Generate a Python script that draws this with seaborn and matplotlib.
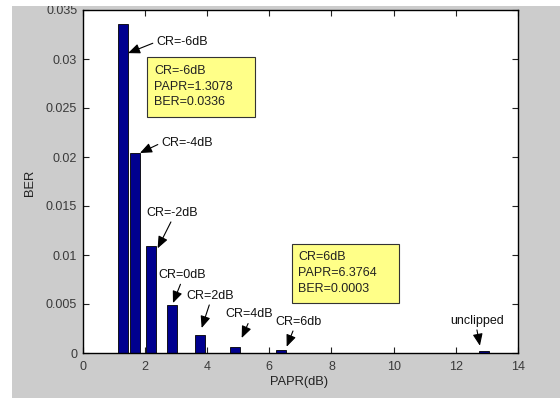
import matplotlib
matplotlib.use("Agg")
import matplotlib.pyplot as plt
from matplotlib.patches import Rectangle
import numpy as np
import pandas as pd
import seaborn as sns

# Clipping ratio results: PAPR (dB) vs. BER for each clipping level
clip_labels = ["CR=-6dB", "CR=-4dB", "CR=-2dB", "CR=0dB", "CR=2dB", "CR=4dB", "CR=6db", "unclipped"]
papr_db = [1.3078, 1.67, 2.20, 2.87, 3.77, 4.91, 6.3764, 12.90]
ber = [0.0336, 0.0204, 0.0109, 0.0049, 0.0018, 0.0006, 0.0003, 0.0002]

x_ticks = [0, 2, 4, 6, 8, 10, 12, 14]
y_ticks = [0, 0.005, 0.01, 0.015, 0.02, 0.025, 0.03, 0.035]
y_tick_labels = ["0", "0.005", "0.01", "0.015", "0.02", "0.025", "0.03", "0.035"]

# Label placement (text anchor in data units) and arrow tips on the bars
label_pos = [(2.36, 0.03174), (2.52, 0.02143), (2.06, 0.01432), (2.42, 0.00796),
             (3.34, 0.00585), (4.60, 0.00395), (6.21, 0.00319), (11.83, 0.00330)]
arrow_tip = [(1.457, 0.0306), (1.842, 0.02041), (2.41, 0.01068), (2.904, 0.0051),
             (3.826, 0.00255), (5.113, 0.00153), (6.56, 0.00064), (12.775, 0.00074)]
arrow_from = [(0.0, 0.5), (0.0, 0.5), (0.5, 0.0), (0.5, 0.0),
              (0.5, 0.0), (0.5, 0.0), (0.4, 0.0), (0.48, 0.0)]

# Data-tip boxes
tip_boxes = [
    {"lines": ["CR=-6dB", "PAPR=1.3078", "BER=0.0336"],
     "rect": (2.077, 0.02412, 3.454, 0.00606), "x": 2.293, "ys": [0.02881, 0.02717, 0.02558]},
    {"lines": ["CR=6dB", "PAPR=6.3764", "BER=0.0003"],
     "rect": (6.72, 0.00507, 3.46, 0.00605), "x": 6.932, "ys": [0.00977, 0.00813, 0.0065]},
]

sns.set_theme(style="ticks")
plt.rcParams["font.family"] = ["Liberation Sans", "DejaVu Sans"]

fig = plt.figure(figsize=(5.6, 3.98), dpi=100, facecolor="white")
W, H = 560, 398
fig.patches.append(Rectangle((12 / W, 0), 1 - 12 / W, 1 - 6 / H, transform=fig.transFigure,
                             facecolor="#cccccc", edgecolor="none", zorder=-1))

ax = fig.add_axes([82.7 / W, (H - 353) / H, (518 - 82.7) / W, (353 - 10) / H])
ax.set_facecolor("white")

df = pd.DataFrame({"PAPR": papr_db, "BER": ber})
sns.barplot(data=df, x="PAPR", y="BER", native_scale=True, orient="x", width=0.9,
            color="#00008f", saturation=1, edgecolor="black", linewidth=0.6,
            errorbar=None, ax=ax)

ax.set_xlim(0, 14)
ax.set_ylim(0, 0.035)
ax.set_xticks(x_ticks)
ax.set_xticklabels([str(t) for t in x_ticks])
ax.set_yticks(y_ticks)
ax.set_yticklabels(y_tick_labels)
ax.tick_params(direction="in", top=True, right=True, length=4, width=0.8,
               labelsize=9, labelcolor="#3a3a3a", color="#222222")
ax.tick_params(axis="x", pad=6)
ax.tick_params(axis="y", pad=4)
ax.set_xlabel("")
ax.set_ylabel("")
for sp in ax.spines.values():
    sp.set_visible(True)
    sp.set_color("black")
    sp.set_linewidth(1.0)

fig.text(299 / W, 1 - 381.7 / H, "PAPR(dB)", ha="center", va="center", fontsize=9.3, color="#222222")
fig.text(30 / W, 1 - 183 / H, "BER", ha="center", va="center", rotation=90, fontsize=9.3, color="#222222")

for lab, (tx, ty), (ax_, ay_), rel in zip(clip_labels, label_pos, arrow_tip, arrow_from):
    ax.annotate(lab, xy=(ax_, ay_), xytext=(tx, ty), ha="left", va="center",
                fontsize=9, color="#111111",
                arrowprops=dict(arrowstyle="-|>,head_length=0.6,head_width=0.25",
                                color="black", lw=0.8, mutation_scale=12,
                                shrinkA=0, shrinkB=0, relpos=rel))

for box in tip_boxes:
    rx, ry, rw, rh = box["rect"]
    ax.add_patch(Rectangle((rx, ry), rw, rh, facecolor="#ffff88", edgecolor="#333333",
                           linewidth=0.8, zorder=4))
    for line, y in zip(box["lines"], box["ys"]):
        ax.text(box["x"], y, line, ha="left", va="center", fontsize=9, color="#222222", zorder=5)

# image border strips
fig.patches.append(Rectangle((0, 1 - 6 / H), 1, 6 / H, transform=fig.transFigure,
                             facecolor="white", edgecolor="none", zorder=10))
fig.patches.append(Rectangle((0, 0), 12 / W, 1, transform=fig.transFigure,
                             facecolor="white", edgecolor="none", zorder=10))

fig.savefig("out.png", dpi=100, facecolor="white")
